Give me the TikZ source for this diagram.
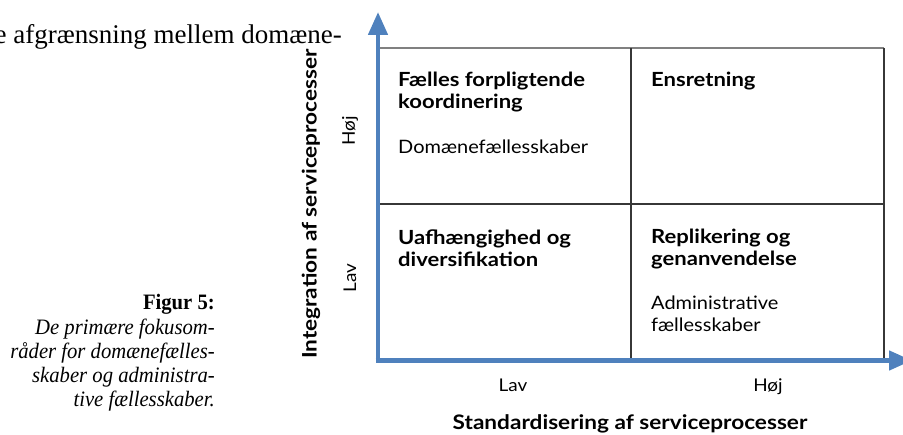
\documentclass[tikz,border=0pt]{standalone}
\usepackage{fontspec}
\setmainfont{Liberation Serif}
\newfontfamily\capfont[FakeStretch=0.94]{Liberation Serif}
\newfontfamily\gill[FakeStretch=1.08]{Lato}
\newfontfamily\gillb[FakeStretch=1.13]{Lato Bold}
\usetikzlibrary{arrows.meta}
\definecolor{axisblue}{RGB}{79,129,189}
\definecolor{gridgray}{RGB}{55,55,55}
\definecolor{topgray}{RGB}{128,128,128}
\begin{document}
\begin{tikzpicture}[x=1pt,y=-1pt,
  axisline/.style={draw=axisblue,line width=4.6pt,-{Triangle[width=19pt,length=23pt]}},
  gridline/.style={draw=gridgray,line width=1.3pt},
  celltitle/.style={anchor=base west,inner sep=0pt,font=\gillb\fontsize{19.5}{22}\selectfont,align=left},
  celltext/.style={anchor=base west,inner sep=0pt,font=\gill\fontsize{18.5}{22}\selectfont,align=left},
  axlabel/.style={inner sep=0pt,font=\gill\fontsize{17.5}{20}\selectfont},
  axtitle/.style={inner sep=0pt,font=\gillb\fontsize{20}{22}\selectfont},
  captext/.style={anchor=base east,inner sep=0pt,font=\capfont\fontsize{22}{24}\selectfont\itshape}]
\useasboundingbox (0,0) rectangle (903,435);
\clip (0,0) rectangle (903,435);
% running text above
\node[anchor=base east,inner sep=0pt,font=\fontsize{27}{30}\selectfont] (bodytext) at (342,44) {e afgrænsning mellem domæne-};
% caption
\node[anchor=base east,inner sep=0pt,font=\capfont\fontsize{22}{24}\selectfont\bfseries] (figlabel) at (215,310) {Figur 5:};
\node[captext] (cap1) at (215,335) {De primære fokusom-};
\node[captext] (cap2) at (215,359) {råder for domænefælles-};
\node[captext] (cap3) at (215,383) {skaber og administra-};
\node[captext] (cap4) at (215,407) {tive fællesskaber.};
% grid
\coordinate (tl) at (380,48);
\coordinate (tr) at (884,48);
\coordinate (br) at (884,360);
\coordinate (tm) at (631,48);
\coordinate (bm) at (631,360);
\coordinate (ml) at (380,204);
\coordinate (mr) at (884,204);
\draw[draw=topgray,line width=1.3pt] (tl) -- (tr);
\draw[gridline] (tr) -- (br);
\draw[gridline] (tm) -- (bm);
\draw[gridline] (ml) -- (mr);
% axes
\coordinate (origin) at (378,360.5);
\coordinate (ytip) at (378,12);
\coordinate (xtip) at (912,360.5);
\draw[axisline] ([yshift=2.3pt]origin) -- (ytip);
\draw[axisline] ([xshift=-2.3pt]origin) -- (xtip);
% cells
\node[celltitle] (c1t) at (398,109) {Fælles forpligtende\\koordinering};
\node[celltext] (c1s) at (398,154) {Domænefællesskaber};
\node[celltitle] (c2t) at (651,87) {Ensretning};
\node[celltitle] (c3t) at (398,267) {Uafhængighed og\\diversifikation};
\node[celltitle] (c4t) at (651,266) {Replikering og\\genanvendelse};
\node[celltext] (c4s) at (651,332) {Administrative\\fællesskaber};
% axis labels
\node[axlabel,rotate=90] (yhigh) at (350,131) {Høj};
\node[axlabel,rotate=90] (ylow) at (350,278) {Lav};
\node[axtitle,rotate=90] (ytitle) at (311,204) {Integration af serviceprocesser};
\node[axlabel,anchor=base] (xlow) at (513,392) {Lav};
\node[axlabel,anchor=base] (xhigh) at (768,392) {Høj};
\node[axtitle,anchor=base] (xtitle) at (630,430) {Standardisering af serviceprocesser};
\end{tikzpicture}
\end{document}
